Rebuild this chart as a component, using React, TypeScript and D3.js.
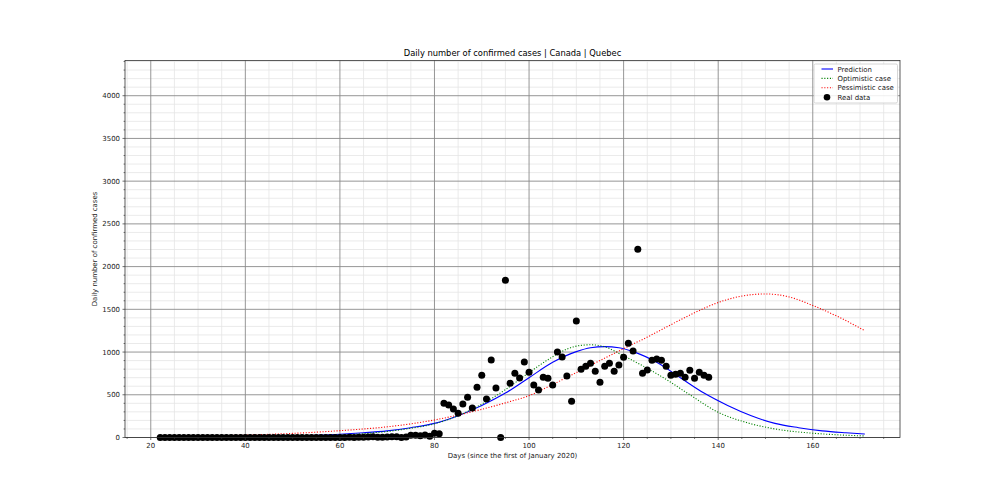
import React from "react";
import * as d3 from "d3";

// ---------- data ----------
const realDays: number[] = d3.range(22, 139);
const realValues: number[] = [
  // 22-58
  0, 0, 0, 0, 0, 0, 0, 0, 0, 0, 0, 0, 0, 0, 0, 0, 0, 0, 0, 0, 0, 0, 0, 0, 0, 0, 0, 0, 0, 0, 0, 0, 0, 0, 0, 0, 0,
  // 59-81
  1, 0, 1, 2, 0, 3, 2, 5, 8, 4, 3, 6, 9, 8, 0, 5, 25, 25, 20, 30, 15, 50, 45,
  // 82-100
  400, 380, 333, 283, 392, 470, 345, 588, 728, 451, 907, 580, 0, 1840, 634, 752, 697, 884, 763,
  // 101-120
  615, 556, 705, 693, 615, 1001, 941, 719, 424, 1362, 798, 834, 869, 775, 646, 834, 869, 775, 847, 939,
  // 121-138
  1103, 1011, 2203, 751, 790, 904, 919, 904, 834, 728, 740, 751, 705, 787, 693, 763, 728, 705,
];

const predDays: number[] = [22, 30, 40, 50, 55, 60, 65, 70, 75, 80, 85, 90, 95, 100, 105, 110, 113, 116, 119, 122, 127, 132, 137, 142, 147, 152, 157, 162, 167, 171];
const predValues: number[] = [2.5, 4.5, 9, 19, 27, 38, 55, 78, 115, 165, 255, 375, 520, 700, 880, 1005, 1050, 1063, 1050, 1005, 880, 700, 520, 375, 255, 165, 115, 78, 55, 40];

const optDays: number[] = [22, 30, 40, 50, 60, 65, 70, 75, 80, 85, 90, 95, 100, 105, 108, 111, 113, 116, 120, 124, 129, 134, 140, 146, 152, 160, 165, 171];
const optValues: number[] = [1, 2, 5, 12, 28, 45, 70, 108, 160, 255, 390, 560, 760, 945, 1035, 1078, 1085, 1062, 955, 840, 680, 500, 295, 175, 100, 50, 32, 18];

const pesDays: number[] = [22, 30, 40, 50, 60, 65, 70, 75, 80, 85, 90, 95, 100, 105, 110, 115, 120, 125, 130, 135, 140, 145, 150, 155, 160, 166, 171];
const pesValues: number[] = [8, 15, 28, 48, 80, 100, 125, 160, 205, 263, 330, 405, 490, 620, 760, 900, 1040, 1175, 1320, 1460, 1580, 1655, 1680, 1645, 1545, 1396, 1250];

const xMajorTicks: number[] = [20, 40, 60, 80, 100, 120, 140, 160];
const yMajorTicks: number[] = [0, 500, 1000, 1500, 2000, 2500, 3000, 3500, 4000];

const titleText = "Daily number of confirmed cases | Canada | Quebec";
const xLabel = "Days (since the first of January 2020)";
const yLabel = "Daily number of confirmed cases";
const legendLabels: string[] = ["Prediction", "Optimistic case", "Pessimistic case", "Real data"];

// ---------- layout ----------
const W = 1000;
const H = 500;
const L = 125;
const R = 900;
const T = 60.5;
const B = 437.5;
const FONT = "DejaVu Sans, sans-serif";

export default function App() {
  const x = d3.scaleLinear().domain([14.55, 178.45]).range([L, R]);
  const y = d3.scaleLinear().domain([0, 4412]).range([B, T]);

  const line = d3
    .line<[number, number]>()
    .x((d) => x(d[0]))
    .y((d) => y(d[1]))
    .curve(d3.curveMonotoneX);

  const zip = (a: number[], b: number[]): [number, number][] => a.map((v, i) => [v, b[i]]);

  const xMinor = d3.range(15, 178, 5).filter((v) => v % 20 !== 0);
  const yMinor = d3.range(0, 4412, 100).filter((v) => v % 500 !== 0);

  const dot = "1.1 1.7";

  return (
    <svg width={W} height={H} style={{ display: "block", position: "absolute", left: 0, top: 0 }} fontFamily={FONT}>
      <rect x={0} y={0} width={W} height={H} fill="#ffffff" />
      <defs>
        <clipPath id="plotclip">
          <rect x={L} y={T} width={R - L} height={B - T} />
        </clipPath>
      </defs>
      {/* minor grid */}
      <g stroke="#e4e4e4" strokeWidth={0.8}>
        {xMinor.map((v) => (
          <line key={"xm" + v} x1={x(v)} x2={x(v)} y1={T} y2={B} />
        ))}
        {yMinor.map((v) => (
          <line key={"ym" + v} x1={L} x2={R} y1={y(v)} y2={y(v)} />
        ))}
      </g>
      {/* major grid */}
      <g stroke="#8a8a8a" strokeWidth={0.9}>
        {xMajorTicks.map((v) => (
          <line key={"xg" + v} x1={x(v)} x2={x(v)} y1={T} y2={B} />
        ))}
        {yMajorTicks.map((v) => (
          <line key={"yg" + v} x1={L} x2={R} y1={y(v)} y2={y(v)} />
        ))}
      </g>
      {/* curves */}
      <g clipPath="url(#plotclip)" fill="none" strokeWidth={1.1}>
        <path d={line(zip(predDays, predValues)) || ""} stroke="#0000ff" />
        <path d={line(zip(optDays, optValues)) || ""} stroke="#008000" strokeDasharray={dot} />
        <path d={line(zip(pesDays, pesValues)) || ""} stroke="#ff0000" strokeDasharray={dot} />
      </g>
      {/* real data */}
      <g fill="#000000">
        {realDays.map((d, i) => (
          <circle key={"p" + d} cx={x(d)} cy={y(realValues[i])} r={3.5} />
        ))}
      </g>
      {/* spines */}
      <rect x={L} y={T} width={R - L} height={B - T} fill="none" stroke="#333333" strokeWidth={0.8} />
      {/* ticks */}
      <g stroke="#333333" strokeWidth={0.7}>
        {xMajorTicks.map((v) => (
          <line key={"xt" + v} x1={x(v)} x2={x(v)} y1={B} y2={B + 2.5} />
        ))}
        {xMinor.map((v) => (
          <line key={"xmt" + v} x1={x(v)} x2={x(v)} y1={B} y2={B + 1.4} />
        ))}
        {yMajorTicks.map((v) => (
          <line key={"yt" + v} x1={L - 2.5} x2={L} y1={y(v)} y2={y(v)} />
        ))}
        {yMinor.map((v) => (
          <line key={"ymt" + v} x1={L - 1.4} x2={L} y1={y(v)} y2={y(v)} />
        ))}
      </g>
      <g fontSize={6.94} fill="#222222">
        {xMajorTicks.map((v) => (
          <text key={"xl" + v} x={x(v)} y={B + 10} textAnchor="middle">
            {v}
          </text>
        ))}
        {yMajorTicks.map((v) => (
          <text key={"yl" + v} x={L - 5} y={y(v) + 2.5} textAnchor="end">
            {v}
          </text>
        ))}
      </g>
      {/* labels */}
      <text x={(L + R) / 2} y={56} textAnchor="middle" fontSize={8.33} fill="#000000">
        {titleText}
      </text>
      <text x={(L + R) / 2} y={457.5} textAnchor="middle" fontSize={6.94} fill="#222222">
        {xLabel}
      </text>
      <text
        transform={`translate(97, ${(T + B) / 2}) rotate(-90)`}
        textAnchor="middle"
        fontSize={6.94}
        fill="#222222"
      >
        {yLabel}
      </text>
      {/* legend */}
      <g>
        <rect x={814} y={64} width={83.5} height={39} rx={1.5} fill="#ffffff" fillOpacity={0.85} stroke="#cccccc" strokeWidth={0.8} />
        {legendLabels.map((lab, i) => {
          const cy = 69 + i * 9.4;
          return (
            <g key={lab}>
              {i === 0 && <line x1={821.5} x2={833} y1={cy} y2={cy} stroke="#0000ff" strokeWidth={1.1} />}
              {i === 1 && <line x1={821.5} x2={833} y1={cy} y2={cy} stroke="#008000" strokeWidth={1.1} strokeDasharray={dot} />}
              {i === 2 && <line x1={821.5} x2={833} y1={cy} y2={cy} stroke="#ff0000" strokeWidth={1.1} strokeDasharray={dot} />}
              {i === 3 && <circle cx={827} cy={cy} r={3.3} fill="#000000" />}
              <text x={837.5} y={cy + 2.5} fontSize={6.94} fill="#222222">
                {lab}
              </text>
            </g>
          );
        })}
      </g>
    </svg>
  );
}
